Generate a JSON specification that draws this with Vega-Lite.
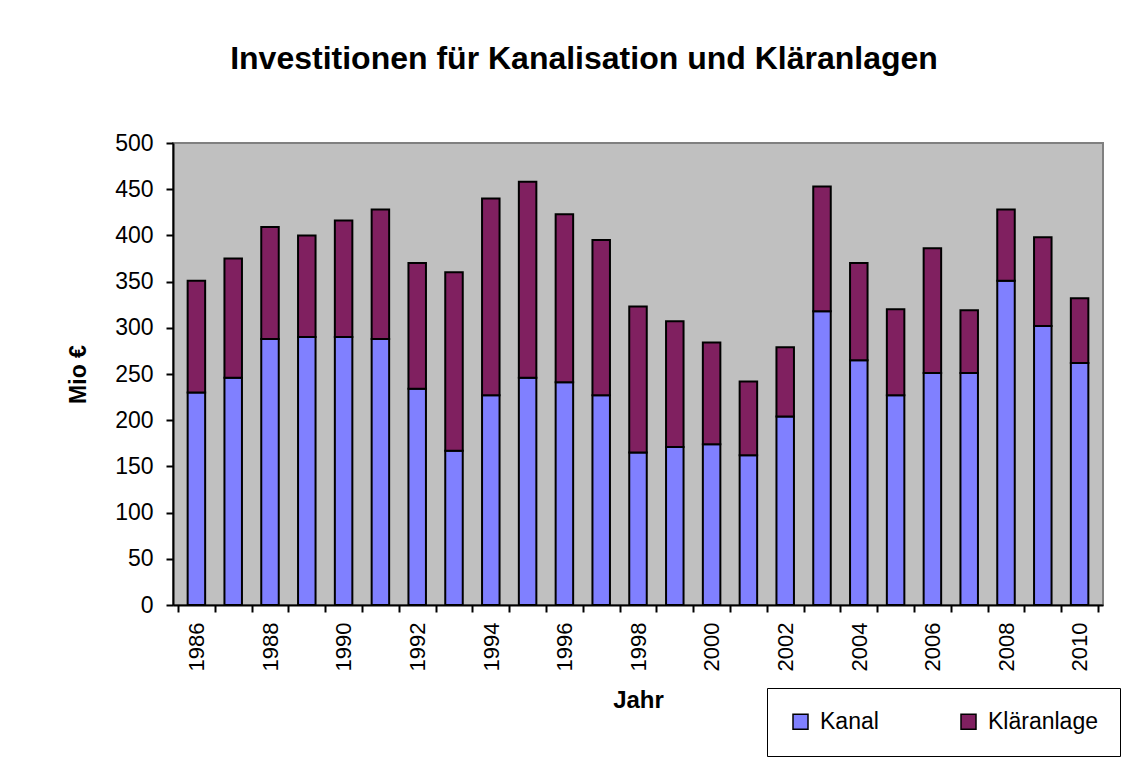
{
  "$schema": "https://vega.github.io/schema/vega-lite/v6.json",
  "autosize": "none",
  "padding": {"left": 173, "top": 143, "right": 44, "bottom": 155},
  "width": 930,
  "height": 462,
  "background": "white",
  "title": {
    "text": "Investitionen für Kanalisation und Kläranlagen",
    "font": "Liberation Sans",
    "fontSize": 32,
    "fontWeight": "bold",
    "color": "black",
    "anchor": "middle",
    "dx": -54,
    "offset": 56
  },
  "data": {
    "values": [
      {"Jahr": 1986, "Art": "Kanal", "Wert": 230}, {"Jahr": 1986, "Art": "Kläranlage", "Wert": 121},
      {"Jahr": 1987, "Art": "Kanal", "Wert": 246}, {"Jahr": 1987, "Art": "Kläranlage", "Wert": 129},
      {"Jahr": 1988, "Art": "Kanal", "Wert": 288}, {"Jahr": 1988, "Art": "Kläranlage", "Wert": 121},
      {"Jahr": 1989, "Art": "Kanal", "Wert": 290}, {"Jahr": 1989, "Art": "Kläranlage", "Wert": 110},
      {"Jahr": 1990, "Art": "Kanal", "Wert": 290}, {"Jahr": 1990, "Art": "Kläranlage", "Wert": 126},
      {"Jahr": 1991, "Art": "Kanal", "Wert": 288}, {"Jahr": 1991, "Art": "Kläranlage", "Wert": 140},
      {"Jahr": 1992, "Art": "Kanal", "Wert": 234}, {"Jahr": 1992, "Art": "Kläranlage", "Wert": 136},
      {"Jahr": 1993, "Art": "Kanal", "Wert": 167}, {"Jahr": 1993, "Art": "Kläranlage", "Wert": 193},
      {"Jahr": 1994, "Art": "Kanal", "Wert": 227}, {"Jahr": 1994, "Art": "Kläranlage", "Wert": 213},
      {"Jahr": 1995, "Art": "Kanal", "Wert": 246}, {"Jahr": 1995, "Art": "Kläranlage", "Wert": 212},
      {"Jahr": 1996, "Art": "Kanal", "Wert": 241}, {"Jahr": 1996, "Art": "Kläranlage", "Wert": 182},
      {"Jahr": 1997, "Art": "Kanal", "Wert": 227}, {"Jahr": 1997, "Art": "Kläranlage", "Wert": 168},
      {"Jahr": 1998, "Art": "Kanal", "Wert": 165}, {"Jahr": 1998, "Art": "Kläranlage", "Wert": 158},
      {"Jahr": 1999, "Art": "Kanal", "Wert": 171}, {"Jahr": 1999, "Art": "Kläranlage", "Wert": 136},
      {"Jahr": 2000, "Art": "Kanal", "Wert": 174}, {"Jahr": 2000, "Art": "Kläranlage", "Wert": 110},
      {"Jahr": 2001, "Art": "Kanal", "Wert": 162}, {"Jahr": 2001, "Art": "Kläranlage", "Wert": 80},
      {"Jahr": 2002, "Art": "Kanal", "Wert": 204}, {"Jahr": 2002, "Art": "Kläranlage", "Wert": 75},
      {"Jahr": 2003, "Art": "Kanal", "Wert": 318}, {"Jahr": 2003, "Art": "Kläranlage", "Wert": 135},
      {"Jahr": 2004, "Art": "Kanal", "Wert": 265}, {"Jahr": 2004, "Art": "Kläranlage", "Wert": 105},
      {"Jahr": 2005, "Art": "Kanal", "Wert": 227}, {"Jahr": 2005, "Art": "Kläranlage", "Wert": 93},
      {"Jahr": 2006, "Art": "Kanal", "Wert": 251}, {"Jahr": 2006, "Art": "Kläranlage", "Wert": 135},
      {"Jahr": 2007, "Art": "Kanal", "Wert": 251}, {"Jahr": 2007, "Art": "Kläranlage", "Wert": 68},
      {"Jahr": 2008, "Art": "Kanal", "Wert": 351}, {"Jahr": 2008, "Art": "Kläranlage", "Wert": 77},
      {"Jahr": 2009, "Art": "Kanal", "Wert": 302}, {"Jahr": 2009, "Art": "Kläranlage", "Wert": 96},
      {"Jahr": 2010, "Art": "Kanal", "Wert": 262}, {"Jahr": 2010, "Art": "Kläranlage", "Wert": 70}
    ]
  },
  "mark": {"type": "bar", "width": 17.5, "stroke": "black", "strokeWidth": 2},
  "encoding": {
    "x": {
      "field": "Jahr",
      "type": "quantitative",
      "scale": {"domain": [1985.5, 2010.5], "nice": false, "zero": false},
      "axis": {
        "title": "Jahr",
        "values": [1985.5, 1986.5, 1987.5, 1988.5, 1989.5, 1990.5, 1991.5, 1992.5, 1993.5, 1994.5, 1995.5, 1996.5, 1997.5, 1998.5, 1999.5, 2000.5, 2001.5, 2002.5, 2003.5, 2004.5, 2005.5, 2006.5, 2007.5, 2008.5, 2009.5, 2010.5],
        "labelExpr": "(datum.value + 0.5) % 2 == 0 ? format(datum.value + 0.5, 'd') : ''",
        "labelOffset": 18.6,
        "labelAngle": -90,
        "labelAlign": "right",
        "labelBaseline": "middle",
        "labelFontSize": 22,
        "labelPadding": 10,
        "labelOverlap": false,
        "labelFlush": false,
        "labelBound": false,
        "titleFontSize": 24,
        "titlePadding": 18,
        "grid": false
      }
    },
    "y": {
      "field": "Wert",
      "type": "quantitative",
      "stack": "zero",
      "scale": {"domain": [0, 500], "nice": false},
      "axis": {
        "title": "Mio €",
        "values": [0, 50, 100, 150, 200, 250, 300, 350, 400, 450, 500],
        "labelFontSize": 23,
        "labelPadding": 13,
        "titleFontSize": 23,
        "titlePadding": 24,
        "grid": false
      }
    },
    "order": {"field": "Art", "sort": "ascending"},
    "color": {
      "field": "Art",
      "type": "nominal",
      "scale": {"domain": ["Kanal", "Kläranlage"], "range": ["#8080FF", "#802060"]},
      "legend": {
        "title": null,
        "orient": "none",
        "legendX": 594,
        "legendY": 545,
        "direction": "horizontal",
        "padding": 22,
        "strokeColor": "black",
        "fillColor": "white",
        "symbolType": "square",
        "symbolSize": 225,
        "symbolStrokeColor": "black",
        "symbolStrokeWidth": 1.5,
        "labelFontSize": 23,
        "labelFont": "Liberation Sans",
        "labelColor": "black",
        "labelOffset": 8,
        "columnPadding": 78
      }
    }
  },
  "config": {
    "view": {"fill": "#C0C0C0", "stroke": "#808080", "strokeWidth": 2},
    "axis": {
      "domainColor": "black",
      "domainWidth": 2,
      "tickColor": "black",
      "tickWidth": 2,
      "tickSize": 7,
      "labelColor": "black",
      "labelFont": "Liberation Sans",
      "titleFont": "Liberation Sans",
      "titleColor": "black",
      "titleFontWeight": "bold"
    }
  }
}
